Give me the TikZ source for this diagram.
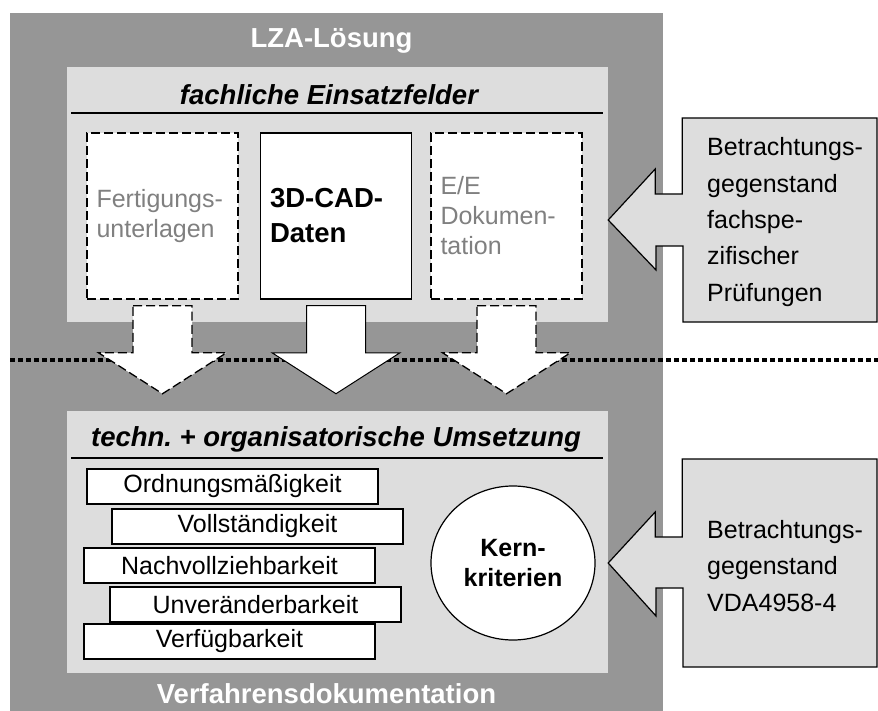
\documentclass[tikz,border=0pt]{standalone}
\usepackage{fontspec}
\setmainfont{Liberation Sans}
\usepackage{xcolor}
\usetikzlibrary{shapes.geometric}

\definecolor{dunkelgrau}{RGB}{150,150,150}
\definecolor{hellgrau}{RGB}{221,221,221}
\definecolor{textgrau}{RGB}{128,128,128}

\begin{document}
\begin{tikzpicture}[x=1pt, y=-1pt,
        panel/.style={rectangle, fill=hellgrau, minimum width=541pt, inner sep=0pt},
        titel/.style={anchor=base, font=\fontsize{27.5}{33}\selectfont\bfseries},
        feld/.style={rectangle, draw=black, fill=white, line width=1.5pt, minimum height=166pt, text width=132pt, inner xsep=9.5pt, align=left, font=\fontsize{25}{30}\selectfont},
        gestrichelt/.style={dash pattern=on 9pt off 4pt},
        durchgezogen/.style={line width=1pt},
        krit/.style={rectangle, draw=black, fill=white, line width=1.5pt, minimum width=291pt, minimum height=35pt, inner sep=0pt, font=\fontsize{25}{30}\selectfont},
        kern/.style={ellipse, draw=black, fill=white, line width=1.2pt, minimum width=164pt, minimum height=154pt, align=center, font=\fontsize{25}{30}\selectfont\bfseries},
        pfeil/.style={fill=white, draw=black, line width=1.3pt, line join=miter},
        hinweis/.style={fill=hellgrau, draw=black, line width=1.2pt},
        hinweistext/.style={anchor=west, inner sep=0pt, align=left, font=\fontsize{25}{36.3}\selectfont}
    ]
        \useasboundingbox (0,0) rectangle (878,711);

        % Rahmen LZA-Loesung
        \fill[dunkelgrau] (10,13) rectangle (663,711);
        \node[titel, text=white] (lza) at (331.5,48) {LZA-Lösung};
        \node[titel, text=white] (verf) at (326.5,703) {Verfahrensdokumentation};

        % Trennlinie
        \draw[line width=4pt, dash pattern=on 5pt off 3pt] (10,360) -- (878,360);

        % Einsatzfelder
        \node[panel, minimum height=255pt] (oben) at (337.5,194.5) {};
        \node[titel, font=\fontsize{27.5}{33}\selectfont\bfseries\itshape] (einsatz) at (329,105) {fachliche Einsatzfelder};
        \draw[line width=1.5pt] (71,113) -- (603,113);
        \node[feld, gestrichelt, text=textgrau] (fert) at (162.5,216) {Fertigungs-\\unterlagen};
        \node[feld, font=\fontsize{27.5}{35}\selectfont\bfseries] (cad) at (336,216) {3D-CAD-\\Daten};
        \node[feld, gestrichelt, text=textgrau] (ee) at (506.5,216) {E/E\\Dokumen-\\tation};

        % Umsetzung
        \node[panel, minimum height=262pt] (unten) at (337.5,542) {};
        \node[titel, font=\fontsize{27.5}{33}\selectfont\bfseries\itshape] (umsetz) at (336,446) {techn.\ + organisatorische Umsetzung};
        \draw[line width=1.5pt] (71,458) -- (603,458);
        \node[krit] (k1) at (232.5,486.5) {Ordnungsmäßigkeit};
        \node[krit] (k2) at (257.5,526.5) {Vollständigkeit};
        \node[krit] (k3) at (229.5,565.5) {Nachvollziehbarkeit};
        \node[krit] (k4) at (255.5,604.5) {Unveränderbarkeit};
        \node[krit] (k5) at (229.5,641.5) {Verfügbarkeit};
        \node[kern] (kern) at (513,563) {Kern-\\kriterien};

        % Pfeile nach unten
        \foreach \feld/\stil in {fert/gestrichelt, cad/durchgezogen, ee/gestrichelt}
            \draw[pfeil, \stil] ([xshift=-29.5pt, yshift=-6pt]\feld.south) -- ++(59,0) -- ++(0,47) -- ++(34.5,0)
                -- ++(-64,41) -- ++(-64,-41) -- ++(34.5,0) -- cycle;

        % Betrachtungsgegenstand
        \draw[hinweis] (oben.east |- 0,220) -- ++(47,-51) -- ++(0,25) -- ++(27,0) -- ++(0,-76) -- (877,118)
            -- (877,322) -- (683,322) -- ++(0,-76) -- ++(-27,0) -- ++(0,24) -- cycle;
        \node[hinweistext] (pruef) at (707,222) {Betrachtungs-\\gegenstand\\fachspe-\\zifischer\\Prüfungen};

        \draw[hinweis] (unten.east |- 0,563) -- ++(47,-51) -- ++(0,25) -- ++(27,0) -- ++(0,-78) -- (877,459)
            -- (877,667) -- (683,667) -- ++(0,-79) -- ++(-27,0) -- ++(0,28) -- cycle;
        \node[hinweistext] (vda) at (707,566) {Betrachtungs-\\gegenstand\\VDA4958-4};
    \end{tikzpicture}
\end{document}
